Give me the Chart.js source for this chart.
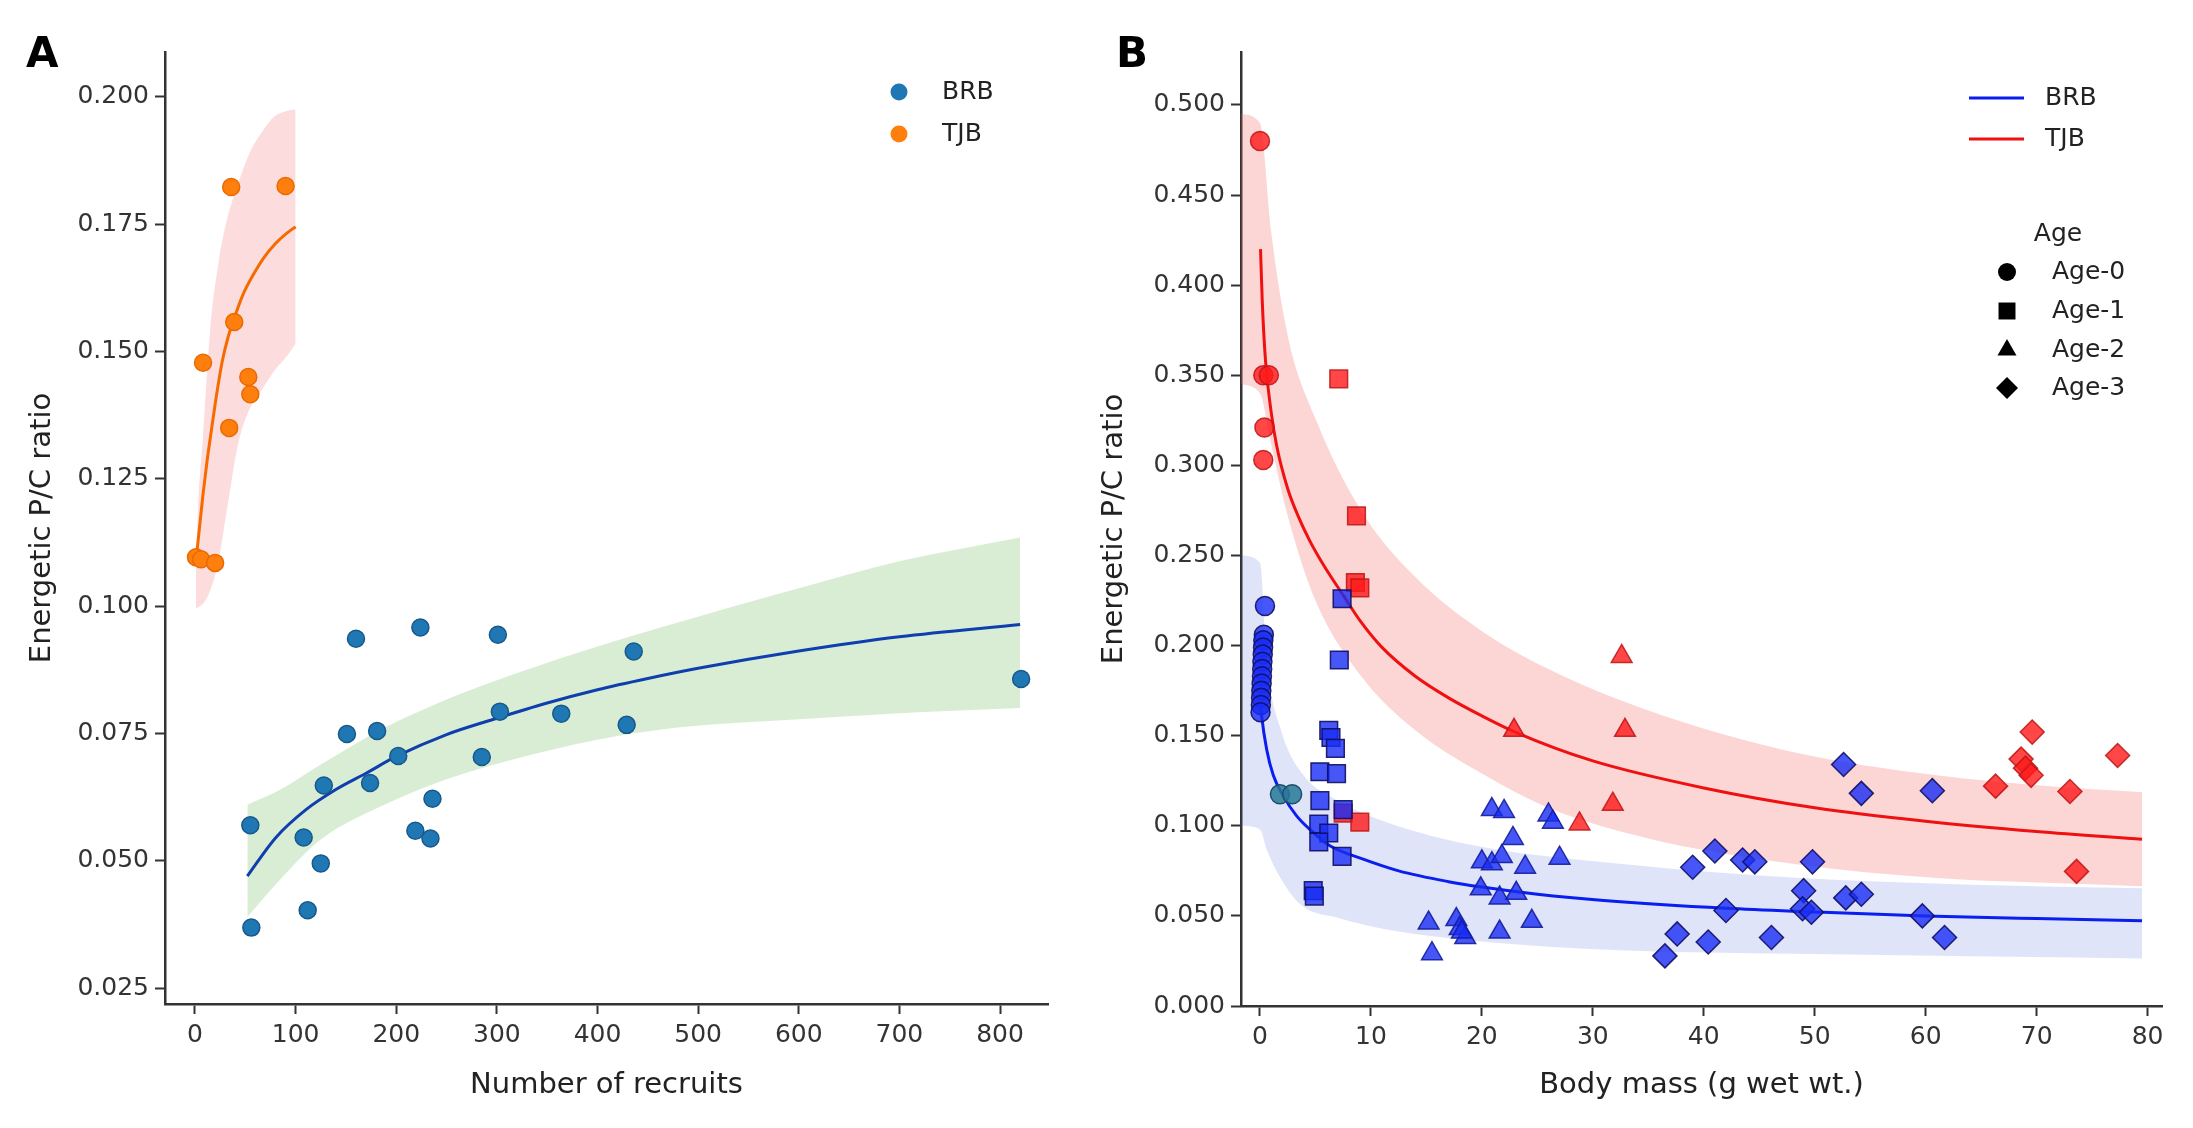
<!DOCTYPE html>
<html>
<head>
<meta charset="utf-8">
<script src="https://cdn.jsdelivr.net/npm/chart.js@4.4.1/dist/chart.umd.min.js"></script>
<style>
  body { margin: 0; background: #fff; }
  #wrap { position: relative; width: 2193px; height: 1128px; }
  canvas { position: absolute; top: 0; }
  #chartA { left: 0; }
  #chartB { left: 1090px; }
</style>
</head>
<body>
<div id="wrap">
  <canvas id="chartA" width="1090" height="1128"></canvas>
  <canvas id="chartB" width="1103" height="1128"></canvas>
</div>
<script>
// ---------- Panel A: P/C ratio vs number of recruits ----------
const xTicksA = [0, 100, 200, 300, 400, 500, 600, 700, 800];
const yTicksA = [0.025, 0.050, 0.075, 0.100, 0.125, 0.150, 0.175, 0.200];

const tjbRecruits = [1, 6, 20, 8, 36, 90, 39, 34, 53, 55];
const tjbRatioA = [0.1096, 0.1092, 0.1085, 0.1478, 0.1823, 0.1825, 0.1558, 0.1350, 0.1450, 0.1416];

const brbRecruits = [55, 56, 108, 112, 125, 128, 151, 160, 181, 174, 202, 224, 219, 234, 236, 285, 301, 303, 364, 429, 436, 821];
const brbRatioA = [0.0570, 0.0369, 0.0546, 0.0403, 0.0495, 0.0648, 0.0749, 0.0936, 0.0755, 0.0653, 0.0706, 0.0958,
                   0.0559, 0.0544, 0.0622, 0.0704, 0.0944, 0.0793, 0.0789, 0.0767, 0.0911, 0.0857];

// fitted curves and confidence bands
const tjbFitXA = [2, 5, 8, 12, 17, 22, 27, 33, 40, 48, 58, 68, 80, 91, 100];
const tjbFitYA = [0.1108, 0.1164, 0.1220, 0.1285, 0.1355, 0.1422, 0.1480, 0.1529, 0.1571, 0.1613, 0.1651, 0.1683, 0.1712, 0.1732, 0.1745];
const tjbBandXA = [1, 3, 8, 15, 23, 31, 43, 55, 68, 78, 91, 100];
const tjbBandHiA = [0.1080, 0.1190, 0.1333, 0.1540, 0.1670, 0.1753, 0.1830, 0.1893, 0.1935, 0.1960, 0.1972, 0.1975];
const tjbBandLoA = [0.0995, 0.0998, 0.1005, 0.1030, 0.1085, 0.1180, 0.1320, 0.1390, 0.1430, 0.1460, 0.1490, 0.1515];

const brbFitXA = [52, 80, 110, 140, 170, 200, 250, 300, 350, 400, 450, 500, 600, 700, 820];
const brbFitYA = [0.0470, 0.0545, 0.0600, 0.0640, 0.0672, 0.0705, 0.0748, 0.0780, 0.0810, 0.0836, 0.0858, 0.0878, 0.0912, 0.0940, 0.0964];
const brbBandXA = [52, 85, 125, 185, 250, 316, 400, 480, 600, 700, 820];
const brbBandHiA = [0.0610, 0.0640, 0.0689, 0.0758, 0.0817, 0.0866, 0.0921, 0.0968, 0.1035, 0.1088, 0.1135];
const brbBandLoA = [0.0390, 0.0464, 0.0542, 0.0607, 0.0660, 0.0699, 0.0738, 0.0762, 0.0778, 0.0790, 0.0800];

// ---------- Panel B: P/C ratio vs body mass ----------
const xTicksB = [0, 10, 20, 30, 40, 50, 60, 70, 80];
const yTicksB = [0.000, 0.050, 0.100, 0.150, 0.200, 0.250, 0.300, 0.350, 0.400, 0.450, 0.500];

const brbAge0Mass = [0.45, 0.35, 0.3, 0.28, 0.25, 0.22, 0.2, 0.18, 0.15, 0.12, 0.1, 0.08, 0.05];
const brbAge0Ratio = [0.222, 0.206, 0.203, 0.199, 0.195, 0.191, 0.187, 0.183, 0.179, 0.175, 0.171, 0.167, 0.163];
const brbAge0bMass = [1.8, 2.9];
const brbAge0bRatio = [0.1175, 0.1175];
const brbAge1Mass = [7.4, 7.15, 6.2, 6.4, 6.8, 5.4, 6.9, 5.4, 7.5, 5.3, 6.2, 5.3, 7.4, 4.8, 4.9];
const brbAge1Ratio = [0.226, 0.192, 0.153, 0.149, 0.143, 0.130, 0.129, 0.114, 0.109, 0.101, 0.096, 0.091, 0.083, 0.064, 0.061];
const brbAge2Mass = [20.9, 22.0, 26.0, 26.4, 22.8, 20.0, 20.9, 21.8, 23.9, 27.0, 19.9, 21.6, 23.1, 15.2, 17.7, 18.0, 18.5, 18.2, 15.5, 21.6, 24.5];
const brbAge2Ratio = [0.109, 0.108, 0.106, 0.102, 0.093, 0.080, 0.079, 0.083, 0.077, 0.082, 0.065, 0.060, 0.0625, 0.046, 0.048, 0.043, 0.038, 0.041, 0.029, 0.041, 0.047];
const brbAge3Mass = [52.6, 54.2, 60.6, 39.0, 41.0, 43.5, 44.6, 49.8, 49.0, 48.9, 49.7, 42.0, 52.8, 54.2, 59.7, 61.7, 46.1, 40.4, 37.6, 36.5];
const brbAge3Ratio = [0.134, 0.118, 0.1195, 0.077, 0.086, 0.081, 0.080, 0.080, 0.064, 0.054, 0.052, 0.053, 0.060, 0.062, 0.050, 0.038, 0.038, 0.0355, 0.040, 0.0278];

const tjbAge0Mass = [0.0, 0.3, 0.8, 0.4, 0.3];
const tjbAge0Ratio = [0.480, 0.350, 0.350, 0.321, 0.303];
const tjbAge1Mass = [7.1, 8.7, 8.6, 9.0, 7.5, 9.0];
const tjbAge1Ratio = [0.348, 0.272, 0.235, 0.232, 0.107, 0.102];
const tjbAge2Mass = [32.6, 32.9, 22.9, 31.8, 28.8];
const tjbAge2Ratio = [0.194, 0.153, 0.153, 0.112, 0.101];
const tjbAge3Mass = [66.3, 68.6, 69.0, 69.5, 69.6, 73.0, 77.3, 73.6];
const tjbAge3Ratio = [0.122, 0.137, 0.132, 0.128, 0.152, 0.119, 0.139, 0.0747];

const tjbFitMass = [0.05, 0.2, 0.5, 1.0, 1.5, 2.5, 3.5, 4.5, 5.7, 7.6, 9.0, 11, 14, 17, 20, 23, 30, 40, 50, 60, 70, 79.5];
const tjbFitRatio = [0.420, 0.392, 0.358, 0.330, 0.311, 0.287, 0.271, 0.258, 0.245, 0.227, 0.214, 0.199, 0.183, 0.171, 0.161, 0.152, 0.136, 0.121, 0.110, 0.1025, 0.0968, 0.0925];
const tjbBandMass = [-1.7, 0, 1, 2.5, 5, 9, 14, 20, 26, 35, 48, 61, 70, 79.5];
const tjbBandHiB = [0.495, 0.490, 0.430, 0.372, 0.326, 0.276, 0.238, 0.208, 0.187, 0.164, 0.141, 0.128, 0.1225, 0.1186];
const tjbBandLoB = [0.345, 0.340, 0.312, 0.272, 0.225, 0.184, 0.153, 0.129, 0.110, 0.093, 0.079, 0.071, 0.0685, 0.0665];

const brbFitMass = [0.05, 0.15, 0.6, 1.2, 2.1, 3.3, 4.8, 6.3, 9.3, 12.5, 17, 20, 25, 31, 42, 50, 60, 70, 79.5];
const brbFitRatio = [0.168, 0.161, 0.1425, 0.128, 0.1166, 0.1055, 0.0963, 0.0889, 0.0815, 0.0750, 0.0690, 0.0660, 0.0620, 0.0585, 0.0542, 0.0522, 0.0500, 0.0485, 0.0473];
const brbBandMass = [-1.7, 0, 0.6, 1.9, 3.8, 7, 11.4, 19.7, 32.4, 48.3, 64.1, 79.5];
const brbBandHiB = [0.250, 0.246, 0.192, 0.153, 0.129, 0.114, 0.102, 0.0886, 0.0789, 0.0711, 0.0673, 0.0653];
const brbBandLoB = [0.100, 0.098, 0.087, 0.0705, 0.0556, 0.049, 0.0425, 0.036, 0.031, 0.029, 0.0276, 0.0264];

const FONT = 'DejaVu Sans';

function xy(xs, ys) {
  return xs.map((x, i) => ({ x: x, y: ys[i] }));
}

function dots(xs, ys, style, radius, fill, edge) {
  return {
    data: xy(xs, ys), showLine: false, order: 1,
    pointStyle: style, pointRadius: radius, pointBackgroundColor: fill,
    pointBorderColor: edge, pointBorderWidth: 1.5
  };
}

function fitLine(xs, ys, color) {
  return {
    data: xy(xs, ys), showLine: true, order: 2, pointRadius: 0,
    borderColor: color, borderWidth: 3, cubicInterpolationMode: 'monotone', fill: false
  };
}

function band(xs, hi, lo, color) {
  return [
    { data: xy(xs, hi), showLine: true, order: 3, pointRadius: 0, borderWidth: 0,
      borderColor: 'rgba(0,0,0,0)', cubicInterpolationMode: 'monotone', fill: false },
    { data: xy(xs, lo), showLine: true, order: 3, pointRadius: 0, borderWidth: 0,
      borderColor: 'rgba(0,0,0,0)', cubicInterpolationMode: 'monotone', fill: '-1', backgroundColor: color }
  ];
}

function scales(o) {
  const tickFont = { family: FONT, size: 25 };
  const titleFont = { family: FONT, size: 29 };
  return {
    x: {
      type: 'linear', min: o.xMin, max: o.xMax,
      afterFit: s => { s.height = o.xH; },
      afterBuildTicks: s => { s.ticks = o.xTicks.map(v => ({ value: v })); },
      ticks: { font: tickFont, color: '#333', padding: 6, maxRotation: 0, callback: v => String(v) },
      grid: { display: true, drawOnChartArea: false, drawTicks: true, tickLength: 10, tickColor: '#333', tickWidth: 2 },
      border: { display: true, color: '#333', width: 2.5 },
      title: { display: true, text: o.xTitle, font: titleFont, color: '#222', padding: { top: 0, bottom: 25 } }
    },
    y: {
      type: 'linear', min: o.yMin, max: o.yMax,
      afterFit: s => { s.width = o.yW; },
      afterBuildTicks: s => { s.ticks = o.yTicks.map(v => ({ value: v })); },
      ticks: { font: tickFont, color: '#333', padding: 6, callback: v => v.toFixed(3) },
      grid: { display: true, drawOnChartArea: false, drawTicks: true, tickLength: 10, tickColor: '#333', tickWidth: 2 },
      border: { display: true, color: '#333', width: 2.5 },
      title: { display: true, text: 'Energetic P/C ratio', font: titleFont, color: '#222', padding: { top: o.yTitlePad, bottom: 0 } }
    }
  };
}

function baseOptions(padRight, sc) {
  return {
    responsive: false, animation: false, devicePixelRatio: 1, events: [],
    layout: { padding: { left: 0, top: 52, right: padRight, bottom: 0 } },
    plugins: { legend: { display: false }, tooltip: { enabled: false } },
    scales: sc
  };
}

function letter(ctx, txt) {
  ctx.save();
  ctx.font = 'bold 42px "' + FONT + '"';
  ctx.fillStyle = '#000';
  ctx.textBaseline = 'alphabetic';
  ctx.fillText(txt, 26, 67);
  ctx.restore();
}

// ----- chart A -----
const decorA = {
  id: 'decorA',
  afterDraw(chart) {
    const ctx = chart.ctx;
    letter(ctx, 'A');
    ctx.save();
    ctx.font = '25px "' + FONT + '"';
    ctx.textBaseline = 'middle';
    [['BRB', '#1f77b4', 92], ['TJB', '#ff7f0e', 134]].forEach(([name, c, y]) => {
      ctx.beginPath();
      ctx.arc(899, y, 8.5, 0, Math.PI * 2);
      ctx.fillStyle = c;
      ctx.fill();
      ctx.fillStyle = '#222';
      ctx.fillText(name, 942, y);
    });
    ctx.restore();
  }
};

new Chart(document.getElementById('chartA'), {
  type: 'scatter',
  data: {
    datasets: [
      dots(tjbRecruits, tjbRatioA, 'circle', 8.5, '#ff7f0e', '#e86a00'),
      dots(brbRecruits, brbRatioA, 'circle', 8.5, '#1f77b4', '#17598a'),
      fitLine(tjbFitXA, tjbFitYA, '#f56b00'),
      fitLine(brbFitXA, brbFitYA, '#0f3fae'),
      ...band(tjbBandXA, tjbBandHiA, tjbBandLoA, 'rgba(245,120,120,0.26)'),
      ...band(brbBandXA, brbBandHiA, brbBandLoA, 'rgba(120,190,100,0.28)')
    ]
  },
  options: baseOptions(42, scales({
    xMin: -29.8, xMax: 847.7, yMin: 0.0219, yMax: 0.2088,
    xTicks: xTicksA, yTicks: yTicksA, xH: 124, yW: 165, yTitlePad: 24.6,
    xTitle: 'Number of recruits'
  })),
  plugins: [decorA]
});

// ----- chart B -----
const blueFill = 'rgba(25,45,245,0.8)', blueEdge = 'rgba(15,15,100,0.9)';
const redFill = 'rgba(255,25,25,0.8)', redEdge = 'rgba(190,20,20,0.85)';

const decorB = {
  id: 'decorB',
  afterDraw(chart) {
    const ctx = chart.ctx;
    letter(ctx, 'B');
    ctx.save();
    ctx.font = '25px "' + FONT + '"';
    ctx.textBaseline = 'middle';
    [['BRB', '#0a1ef0', 98], ['TJB', '#f01010', 139]].forEach(([name, c, y]) => {
      ctx.beginPath();
      ctx.moveTo(879, y);
      ctx.lineTo(934, y);
      ctx.strokeStyle = c;
      ctx.lineWidth = 3;
      ctx.stroke();
      ctx.fillStyle = '#222';
      ctx.fillText(name, 955, y);
    });
    ctx.textAlign = 'center';
    ctx.fillText('Age', 968, 234);
    ctx.textAlign = 'left';
    const ages = [['Age-0', 'circle', 9, 272], ['Age-1', 'rect', 12, 311], ['Age-2', 'triangle', 11, 350], ['Age-3', 'rectRot', 11, 388]];
    ages.forEach(([name, st, r, y]) => {
      ctx.fillStyle = '#000';
      ctx.strokeStyle = '#000';
      Chart.helpers.drawPoint(ctx, { pointStyle: st, radius: r, rotation: 0, borderWidth: 0 }, 917, y);
      ctx.fillStyle = '#222';
      ctx.fillText(name, 962, y);
    });
    ctx.restore();
  }
};

new Chart(document.getElementById('chartB'), {
  type: 'scatter',
  data: {
    datasets: [
      dots(brbAge0Mass, brbAge0Ratio, 'circle', 9.5, blueFill, blueEdge),
      dots(brbAge0bMass, brbAge0bRatio, 'circle', 9.5, 'rgba(40,120,150,0.85)', '#1d4f6a'),
      dots(brbAge1Mass, brbAge1Ratio, 'rect', 12.5, blueFill, blueEdge),
      dots(brbAge2Mass, brbAge2Ratio, 'triangle', 12, blueFill, 'rgba(20,30,160,0.9)'),
      dots(brbAge3Mass, brbAge3Ratio, 'rectRot', 12, blueFill, blueEdge),
      dots(tjbAge0Mass, tjbAge0Ratio, 'circle', 9.5, redFill, redEdge),
      dots(tjbAge1Mass, tjbAge1Ratio, 'rect', 12.5, redFill, redEdge),
      dots(tjbAge2Mass, tjbAge2Ratio, 'triangle', 12, redFill, redEdge),
      dots(tjbAge3Mass, tjbAge3Ratio, 'rectRot', 12, redFill, redEdge),
      fitLine(brbFitMass, brbFitRatio, '#0a1ef0'),
      fitLine(tjbFitMass, tjbFitRatio, '#f01010'),
      ...band(tjbBandMass, tjbBandHiB, tjbBandLoB, 'rgba(245,100,100,0.27)'),
      ...band(brbBandMass, brbBandHiB, brbBandLoB, 'rgba(60,90,220,0.165)')
    ]
  },
  options: baseOptions(31, scales({
    xMin: -1.71, xMax: 81.3, yMin: 0, yMax: 0.5294,
    xTicks: xTicksB, yTicks: yTicksB, xH: 122, yW: 151, yTitlePad: 7.2,
    xTitle: 'Body mass (g wet wt.)'
  })),
  plugins: [decorB]
});
</script>
</body>
</html>
